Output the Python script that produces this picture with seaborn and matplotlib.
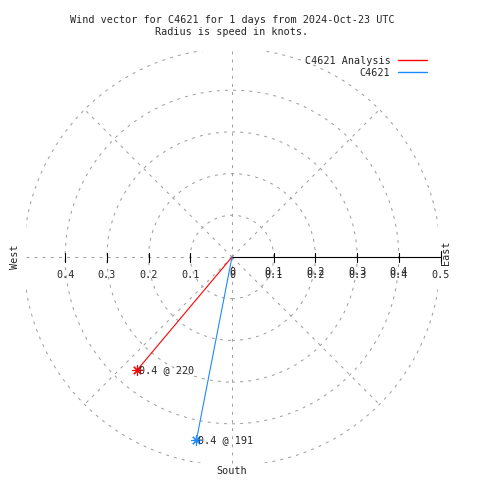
import numpy as np
import pandas as pd
import matplotlib
matplotlib.use("Agg")
import matplotlib.pyplot as plt
from matplotlib.patches import Circle, Rectangle
from matplotlib.lines import Line2D
import seaborn as sns

# wind data (speed in knots, direction in degrees)
series = ["C4621 Analysis", "C4621"]
speeds = [0.353, 0.448]
directions = [220, 191]
colors = ["#ff0000", "#1a8cff"]

rings = [0.1, 0.2, 0.3, 0.4, 0.5]
spokes = [0, 45, 90, 135, 180, 225, 270, 315]
left_ticks = [0.1, 0.2, 0.3, 0.4]
right_ticks = [0.1, 0.2, 0.3, 0.4, 0.5]

title = "Wind vector for C4621 for 1 days from 2024-Oct-23 UTC\nRadius is speed in knots."

sns.set_style("white")
plt.rcParams["font.family"] = ["DejaVu Sans Mono"]
FS = 7.3
GRID = "#a0a0a0"
DASH = (0, (2.8, 5))

# 1 knot = 417 px, center at pixel (232, 257)
S = 417.0
fig = plt.figure(figsize=(4.8, 4.8), dpi=100)
ax = fig.add_axes([0, 0, 1, 1])
ax.set_xlim(-232 / S, 248 / S)
ax.set_ylim(-(480 - 257) / S, 257 / S)
ax.set_axis_off()

df = pd.DataFrame({"series": series, "speed": speeds, "dir": directions})
df["x"] = df["speed"] * np.sin(np.radians(df["dir"]))
df["y"] = df["speed"] * np.cos(np.radians(df["dir"]))

# grid circles, outer one clipped to the plot square
clip = Rectangle((-0.494, -0.494), 0.988, 0.988, transform=ax.transData)
for r in rings:
    c = Circle((0, 0), r, fill=False, ec=GRID, lw=0.75, ls=DASH)
    ax.add_patch(c)
    c.set_clip_path(clip)

# spokes
rmax = max(rings)
for a in spokes:
    if a == 90:
        continue
    t = np.radians(a)
    ax.plot([0, rmax * np.sin(t)], [0, rmax * np.cos(t)], color=GRID, lw=0.75, ls=DASH)

# radial axis towards East
ax.plot([0, rmax], [0, 0], color="black", lw=0.8)
th = 4.5 / S
for v in right_ticks:
    h = th * 1.3 if v == rmax else th
    ax.plot([v, v], [-h, h], color="black", lw=0.8)
for v in left_ticks:
    ax.plot([-v, -v], [-th, th], color="black", lw=0.8)

ly = -18 / S
for v in left_ticks:
    ax.text(-v, ly, f"{v:.1f}", ha="center", va="center", fontsize=FS)
for dy in (0, 3 / S):
    ax.text(0, ly + dy, "0", ha="center", va="center", fontsize=FS)
    for v in right_ticks:
        if v == 0.5 and dy:
            continue
        ax.text(v, ly + dy, f"{v:.1f}", ha="center", va="center", fontsize=FS)

# compass labels
ax.text(-217 / S, 0, "West", rotation=90, ha="center", va="center", fontsize=FS)
ax.text(214 / S, 4 / S, "East", rotation=90, ha="center", va="center", fontsize=FS)
ax.text(0, -214 / S, "South", ha="center", va="center", fontsize=FS)

# vectors
for i, row in df.iterrows():
    seg = pd.DataFrame({"x": [0, row["x"]], "y": [0, row["y"]]})
    sns.lineplot(data=seg, x="x", y="y", sort=False, color=colors[i], lw=0.8, ax=ax)
    ax.plot(row["x"], row["y"], marker=(8, 2, 0), ms=7.5, mew=0.8, color=colors[i])
    ax.text(row["x"] + 2 / S, row["y"], f"{row['speed']:.1f} @ {row['dir']}",
            ha="left", va="center", fontsize=FS)

# legend
handles = [Line2D([], [], color=c, lw=1.0) for c in colors]
fig.legend(handles, series, loc="upper right", bbox_to_anchor=(427 / 480, 1 - 56 / 480),
           markerfirst=False, frameon=False, fontsize=FS, handlelength=2.9,
           handletextpad=0.7, labelspacing=0.2, borderpad=0, borderaxespad=0)

fig.text(232 / 480, 1 - 26 / 480, title, ha="center", va="center", fontsize=FS,
         linespacing=1.25)

fig.savefig("out.png", dpi=100)
